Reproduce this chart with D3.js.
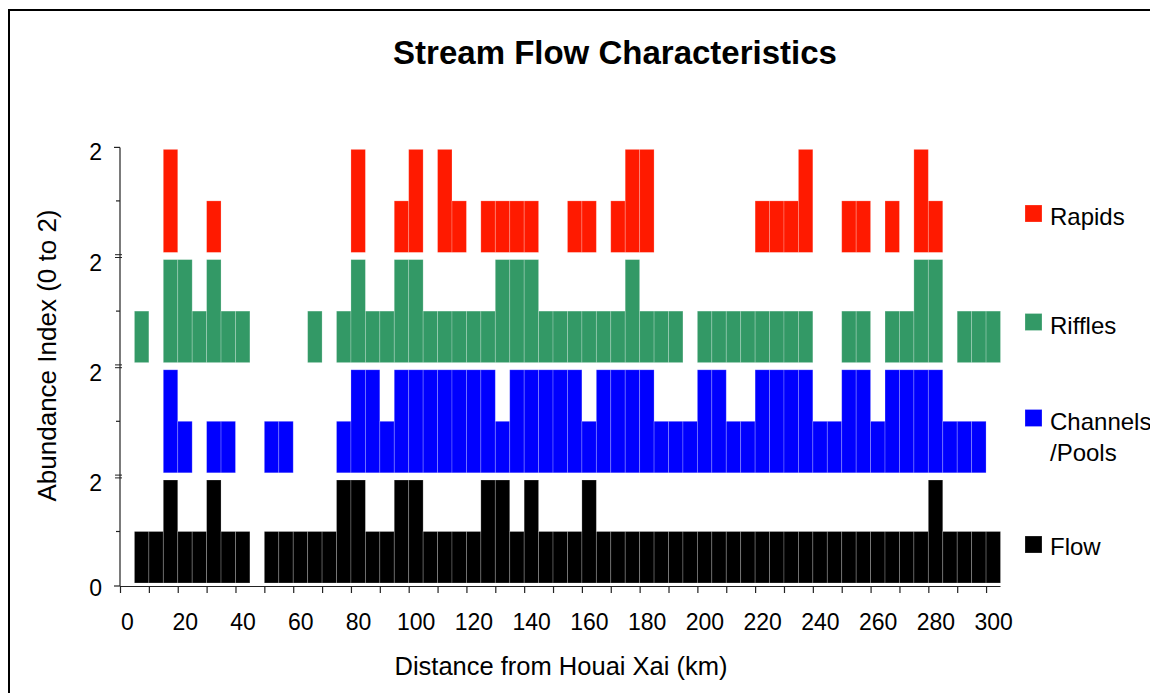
<!DOCTYPE html>
<html><head><meta charset="utf-8">
<script src="https://cdn.jsdelivr.net/npm/d3@7"></script>
<style>
body{margin:0;background:#fff;}
svg{display:block;}
text{font-family:"Liberation Sans",Arial,Helvetica,sans-serif;fill:#000;}
</style>
</head><body><svg id="c" width="1150" height="693"></svg>
<script>
// ---- data (bin start distance in km, bin width 5 km) ----
const distances = [5,10,15,20,25,30,35,40,45,50,
  55,60,65,70,75,80,85,90,95,100,
  105,110,115,120,125,130,135,140,145,150,
  155,160,165,170,175,180,185,190,195,200,
  205,210,215,220,225,230,235,240,245,250,
  255,260,265,270,275,280,285,290,295,300];
const rapids = [0,0,2,0,0,1,0,0,0,0,
  0,0,0,0,0,2,0,0,1,2,
  0,2,1,0,1,1,1,1,0,0,
  1,1,0,1,2,2,0,0,0,0,
  0,0,0,1,1,1,2,0,0,1,
  1,0,1,0,2,1,0,0,0,0];
const riffles = [1,0,2,2,1,2,1,1,0,0,
  0,0,1,0,1,2,1,1,2,2,
  1,1,1,1,1,2,2,2,1,1,
  1,1,1,1,2,1,1,1,0,1,
  1,1,1,1,1,1,1,0,0,1,
  1,0,1,1,2,2,0,1,1,1];
const channels = [0,0,2,1,0,1,1,0,0,1,
  1,0,0,0,1,2,2,1,2,2,
  2,2,2,2,2,1,2,2,2,2,
  2,1,2,2,2,2,1,1,1,2,
  2,1,1,2,2,2,2,1,1,2,
  2,1,2,2,2,2,1,1,1,0];
const flow = [1,1,2,1,1,2,1,1,0,1,
  1,1,1,1,2,2,1,1,2,2,
  1,1,1,1,2,2,1,2,1,1,
  1,2,1,1,1,1,1,1,1,1,
  1,1,1,1,1,1,1,1,1,1,
  1,1,1,1,1,2,1,1,1,1];
const binWidth = 5;
const seriesNames = ["Rapids", "Riffles", "Channels\n/Pools", "Flow"];
const seriesColors = ["#ff1a00", "#339966", "#0000ff", "#000000"];
const xTicks = [0,10,20,30,40,50,60,70,80,90,100,110,120,130,140,150,160,170,180,190,200,210,220,230,240,250,260,270,280,290,300];
const xTickLabels = [0,20,40,60,80,100,120,140,160,180,200,220,240,260,280,300];
const yPanelTopLabel = "2";
const yBottomLabel = "0";
const chartTitle = "Stream Flow Characteristics";
const xTitle = "Distance from Houai Xai (km)";
const yTitle = "Abundance Index (0 to 2)";

const allSeries = [rapids, riffles, channels, flow];

// ---- layout ----
const svg = d3.select("#c");
const FONT = '"Liberation Sans",Arial,Helvetica,sans-serif';

// frame
svg.append("rect").attr("x", 9).attr("y", 10).attr("width", 1300).attr("height", 900)
  .attr("fill", "none").attr("stroke", "#000").attr("stroke-width", 2);

const x = d3.scaleLinear().domain([0, 305]).range([120, 1000.5]);
const bottomBase = 583, panelStep = 110.2, panelH = 103;
const yScales = allSeries.map((s, i) => {
  const base = bottomBase - (3 - i) * panelStep;
  return d3.scaleLinear().domain([0, 2]).range([base, base - panelH]);
});

// bars
allSeries.forEach((vals, i) => {
  const y = yScales[i];
  const data = distances.map((d, k) => ({d, v: vals[k]})).filter(o => o.v > 0);
  svg.append("g").selectAll("rect").data(data).join("rect")
    .attr("x", o => x(o.d))
    .attr("width", o => x(o.d + binWidth) - x(o.d))
    .attr("y", o => y(o.v))
    .attr("height", o => y(0) - y(o.v))
    .attr("fill", seriesColors[i])
    .attr("stroke", "rgba(255,255,255,0.28)")
    .attr("stroke-width", 0.8);
});

// x axis
const axisY = 586;
const xAxis = d3.axisBottom(x).tickValues(xTicks).tickSize(7).tickSizeOuter(0).tickPadding(21)
  .tickFormat(d => xTickLabels.includes(d) ? d : "");
const gx = svg.append("g").attr("transform", `translate(0,${axisY})`).call(xAxis);
gx.select(".domain").attr("stroke", "#222").attr("stroke-width", 1.2)
  .attr("d", `M${x(0)},0.5H${x(305)}`);
gx.selectAll(".tick line").attr("stroke", "#222").attr("stroke-width", 1.2);
gx.selectAll(".tick text").attr("font-family", FONT).attr("font-size", 23).attr("fill", "#111")
  .attr("dx", 7);

// y axis (custom, broken per panel)
const axX = 120;
const gy = svg.append("g");
const topY = yScales[0](2) - 2;
gy.append("line").attr("x1", axX).attr("x2", axX).attr("y1", topY).attr("y2", axisY)
  .attr("stroke", "#222").attr("stroke-width", 1.2);
gy.append("line").attr("x1", axX - 6).attr("x2", axX).attr("y1", topY).attr("y2", topY)
  .attr("stroke", "#222").attr("stroke-width", 1.2);
gy.append("line").attr("x1", axX - 6).attr("x2", axX).attr("y1", axisY).attr("y2", axisY)
  .attr("stroke", "#222").attr("stroke-width", 1.2);
yScales.forEach((y, i) => {
  // mid tick
  gy.append("line").attr("x1", axX - 4).attr("x2", axX).attr("y1", y(1)).attr("y2", y(1))
    .attr("stroke", "#222").attr("stroke-width", 1.2);
  if (i > 0) {
    const by = y(2) - 3.5;
    [-1.4, 1.4].forEach(o => gy.append("line").attr("x1", axX - 5).attr("x2", axX + 2)
      .attr("y1", by + o).attr("y2", by + o).attr("stroke", "#222").attr("stroke-width", 1));
  }
  gy.append("text").attr("x", 102).attr("y", y(2) + (i === 0 ? 2.5 : 3))
    .attr("dy", "0.35em").attr("text-anchor", "end").attr("font-size", 23).attr("fill", "#111")
    .text(yPanelTopLabel);
});
gy.append("text").attr("x", 102).attr("y", yScales[3](0) + 5).attr("dy", "0.35em")
  .attr("text-anchor", "end").attr("font-size", 23).attr("fill", "#111").text(yBottomLabel);

// titles
svg.append("text").attr("x", 615).attr("y", 64).attr("text-anchor", "middle")
  .attr("font-size", 33).attr("font-weight", "bold").text(chartTitle);
svg.append("text").attr("x", 561).attr("y", 675).attr("text-anchor", "middle")
  .attr("font-size", 25.5).attr("fill", "#111").text(xTitle);
svg.append("text").attr("transform", "translate(56,355.5) rotate(-90)").attr("text-anchor", "middle")
  .attr("font-size", 26).attr("fill", "#111").text(yTitle);

// legend
const legSq = [205, 313.5, 409.5, 536];
const legBase = [225, 333.5, 430, 555];
seriesNames.forEach((name, i) => {
  svg.append("rect").attr("x", 1025).attr("y", legSq[i]).attr("width", 17).attr("height", 17)
    .attr("fill", seriesColors[i]).attr("stroke", "rgba(255,255,255,0.3)").attr("stroke-width", 0.8);
  const lines = name.split("\n");
  const t = svg.append("text").attr("x", 1050).attr("y", legBase[i]).attr("font-size", 24).attr("fill", "#111");
  lines.forEach((ln, j) => t.append("tspan").attr("x", 1050).attr("dy", j === 0 ? 0 : 31).text(ln));
});
</script>
</body></html>
